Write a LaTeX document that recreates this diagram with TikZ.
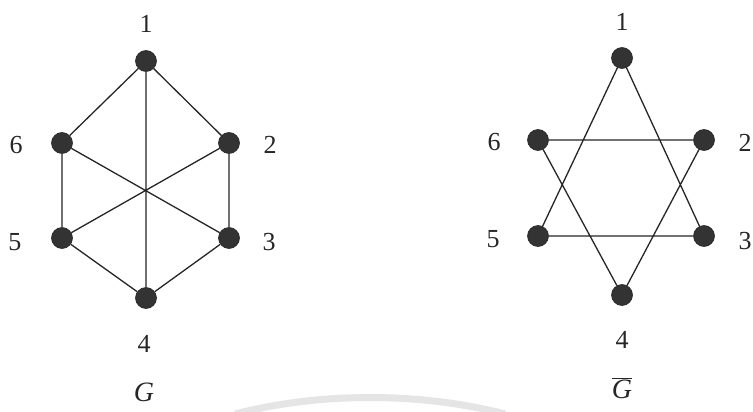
\documentclass[tikz,border=0pt]{standalone}
\usepackage{fontspec}
\setmainfont{Liberation Serif}
\begin{document}
\begin{tikzpicture}[x=1pt,y=-1pt,
  vertex/.style={circle,fill=black!80,draw=black!85,line width=0.6pt,minimum size=21pt,inner sep=0pt},
  lbl/.style={font=\fontsize{26}{28}\selectfont,text=black!85,inner sep=0pt},
  edge/.style={line width=1.3pt,draw=black!85}]
\useasboundingbox[fill=white] (0,0) rectangle (753,412);
% faint watermark arc
\draw[line width=7pt,draw=black!10] (235,414) .. controls (320,392) and (420,392) .. (505,414);
% Left graph G
\node[vertex] (a1) at (146,61) {};
\node[vertex] (a2) at (229,143) {};
\node[vertex] (a3) at (229,238) {};
\node[vertex] (a4) at (146,298) {};
\node[vertex] (a5) at (62,238) {};
\node[vertex] (a6) at (62,143) {};
\draw[edge] (a1) -- (a2) (a1) -- (a6) (a1) -- (a4) (a6) -- (a5) (a2) -- (a3)
  (a5) -- (a4) (a3) -- (a4) (a6) -- (a3) (a2) -- (a5);
\node[lbl] (la1) at (146,24) {1};
\node[lbl] (la2) at (270,145) {2};
\node[lbl] (la3) at (269,242) {3};
\node[lbl] (la4) at (144,344) {4};
\node[lbl] (la5) at (15,242) {5};
\node[lbl] (la6) at (16,145) {6};
\node[lbl,font=\fontsize{28}{30}\selectfont\itshape] (lg) at (144,392) {G};
% Right graph complement
\node[vertex] (b1) at (622,58) {};
\node[vertex] (b2) at (704,140) {};
\node[vertex] (b3) at (704,236) {};
\node[vertex] (b4) at (622,295) {};
\node[vertex] (b5) at (538,236) {};
\node[vertex] (b6) at (538,140) {};
\draw[edge] (b6) -- (b2) (b5) -- (b3) (b1) -- (b5) (b1) -- (b3) (b6) -- (b4) (b2) -- (b4);
\node[lbl] (lb1) at (622,22) {1};
\node[lbl] (lb2) at (745,143) {2};
\node[lbl] (lb3) at (745,241) {3};
\node[lbl] (lb4) at (622,340) {4};
\node[lbl] (lb5) at (493,239) {5};
\node[lbl] (lb6) at (494,142) {6};
\node[lbl,font=\fontsize{28}{30}\selectfont] (rg) at (622,388) {$\overline{\mbox{\itshape G}}$};
\end{tikzpicture}
\end{document}
